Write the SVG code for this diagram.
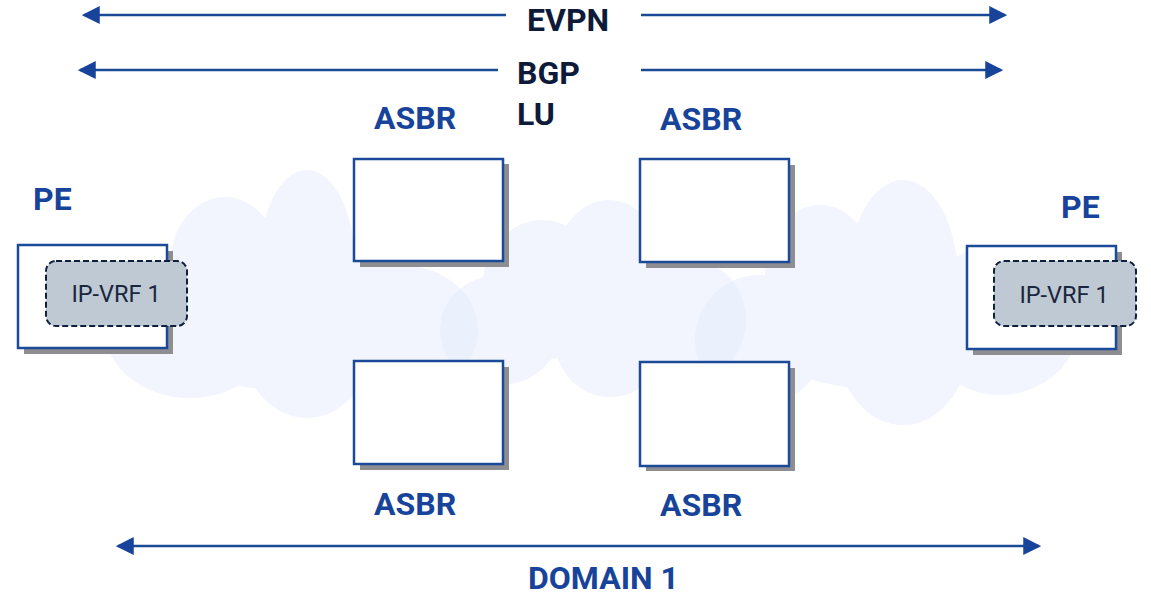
<svg xmlns="http://www.w3.org/2000/svg" width="1151" height="595" viewBox="0 0 1151 595">
<style>
.cloud ellipse{fill:#e6ecfd}
.box{fill:#fff;stroke:#1a4a98;stroke-width:2.5}
.shadow{fill:#8e8e92}
.vrf{fill:#bfc9d3;stroke:#0e1f3f;stroke-width:2;stroke-dasharray:6 3}
.vrft{font-family:Roboto,"Liberation Sans",sans-serif;font-size:23.5px;fill:#1a2640;text-anchor:middle}
.lbl{font-family:Roboto,"Liberation Sans",sans-serif;font-weight:bold;font-size:32px;fill:#17449a}
.dark{font-family:Roboto,"Liberation Sans",sans-serif;font-weight:bold;font-size:32px;fill:#0d1a3a}
.conn line{stroke:#1a4a96;stroke-width:2.5}
</style>
<defs>
<marker id="ah" markerUnits="userSpaceOnUse" markerWidth="18" markerHeight="18" viewBox="0 0 16 16" refX="14" refY="8" orient="auto-start-reverse">
<path d="M0,0 L16,8 L0,16 Z" fill="#17439a"/>
</marker>
</defs>
<g id="clouds">
<g class="cloud" opacity="0.5">
<ellipse cx="190" cy="330" rx="85" ry="68"/>
<ellipse cx="225" cy="265" rx="55" ry="68"/>
<ellipse cx="307" cy="265" rx="48" ry="95"/>
<ellipse cx="307" cy="340" rx="65" ry="78"/>
<ellipse cx="400" cy="330" rx="78" ry="65"/>
<ellipse cx="290" cy="320" rx="150" ry="70"/>
</g>
<g class="cloud" opacity="0.5">
<ellipse cx="542" cy="290" rx="60" ry="70"/>
<ellipse cx="609" cy="280" rx="58" ry="80"/>
<ellipse cx="500" cy="330" rx="60" ry="55"/>
<ellipse cx="610" cy="340" rx="55" ry="57"/>
<ellipse cx="690" cy="320" rx="56" ry="60"/>
</g>
<g class="cloud" opacity="0.5">
<ellipse cx="760" cy="340" rx="65" ry="65"/>
<ellipse cx="820" cy="275" rx="55" ry="70"/>
<ellipse cx="903" cy="280" rx="55" ry="100"/>
<ellipse cx="903" cy="345" rx="65" ry="80"/>
<ellipse cx="1000" cy="320" rx="80" ry="75"/>
<ellipse cx="890" cy="320" rx="150" ry="70"/>
</g>
</g>
<g class="conn" id="connectors">
<line x1="506" y1="15" x2="84" y2="15" marker-end="url(#ah)"/>
<line x1="641" y1="15" x2="1005" y2="15" marker-end="url(#ah)"/>
<line x1="498" y1="70" x2="80" y2="70" marker-end="url(#ah)"/>
<line x1="641" y1="70" x2="1001" y2="70" marker-end="url(#ah)"/>
<line x1="118" y1="546" x2="1039" y2="546" marker-start="url(#ah)" marker-end="url(#ah)"/>
</g>
<g id="labels">
<text class="dark" x="527" y="31">EVPN</text>
<text class="dark" x="517" y="84">BGP</text>
<text class="dark" x="517" y="125">LU</text>
<text class="lbl" x="528" y="589">DOMAIN 1</text>
</g>
<g id="pe-left">
<rect class="shadow" x="24" y="251" width="149" height="103"/>
<rect class="box" x="18" y="245" width="149" height="103"/>
<rect class="vrf" x="46" y="261" width="141" height="65" rx="10"/>
<text class="vrft" x="116" y="302">IP-VRF 1</text>
<text class="lbl" x="33" y="210">PE</text>
</g>
<g id="pe-right">
<rect class="shadow" x="973" y="252" width="149" height="103"/>
<rect class="box" x="967" y="246" width="149" height="103"/>
<rect class="vrf" x="994" y="261" width="142" height="65" rx="10"/>
<text class="vrft" x="1064" y="303">IP-VRF 1</text>
<text class="lbl" x="1061" y="218">PE</text>
</g>
<g id="asbr-tl">
<rect class="shadow" x="360" y="164" width="149" height="103"/>
<rect class="box" x="354" y="159" width="149" height="102"/>
<text class="lbl" x="374" y="129">ASBR</text>
</g>
<g id="asbr-tr">
<rect class="shadow" x="646" y="165" width="149" height="103"/>
<rect class="box" x="640" y="159" width="149" height="103"/>
<text class="lbl" x="660" y="130">ASBR</text>
</g>
<g id="asbr-bl">
<rect class="shadow" x="360" y="367" width="149" height="103"/>
<rect class="box" x="354" y="361" width="149" height="103"/>
<text class="lbl" x="374" y="515">ASBR</text>
</g>
<g id="asbr-br">
<rect class="shadow" x="646" y="368" width="149" height="103"/>
<rect class="box" x="640" y="362" width="149" height="104"/>
<text class="lbl" x="660" y="516">ASBR</text>
</g>
</svg>
